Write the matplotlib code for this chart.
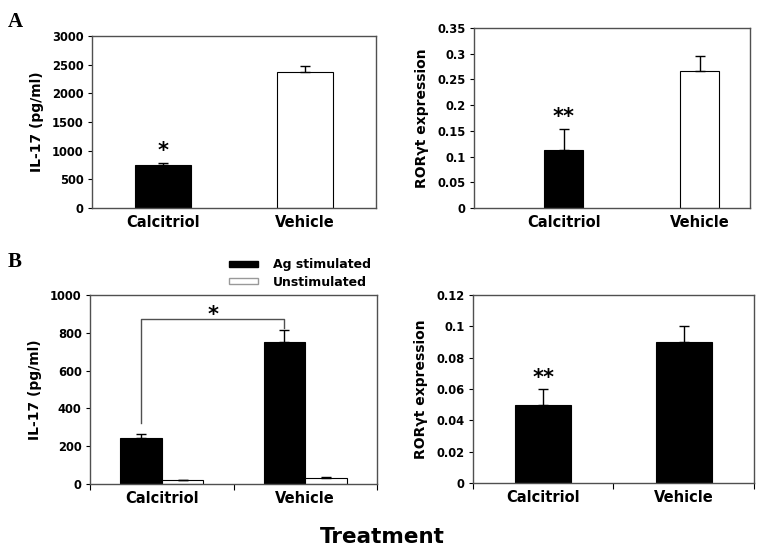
import matplotlib.pyplot as plt
import matplotlib.patches as mpatches

plt.rcParams["font.family"] = "DejaVu Sans"
plt.rcParams["font.weight"] = "bold"

# data
treatments = ["Calcitriol", "Vehicle"]

il17_a = [745, 2368]
il17_a_err = [38, 110]

ror_a = [0.113, 0.267]
ror_a_err = [0.040, 0.029]

il17_b_stim = [242, 750]
il17_b_stim_err = [21, 65]
il17_b_unstim = [20, 33]
il17_b_unstim_err = [3, 5]

ror_b = [0.050, 0.090]
ror_b_err = [0.010, 0.010]

SPINE = "#505050"


def style_axes(ax, ymax, yticks, ylabels, ylabel, group_ticks=False):
    for s in ax.spines.values():
        s.set_color(SPINE)
        s.set_linewidth(1.0)
    ax.set_ylim(0, ymax)
    ax.set_yticks(yticks)
    ax.set_yticklabels(ylabels, fontsize=8.3, fontweight="bold")
    ax.tick_params(axis="y", direction="out", length=3, width=0.8, pad=3, colors="black")
    ax.set_ylabel(ylabel, fontsize=10, fontweight="bold", labelpad=6)
    if group_ticks:
        ax.set_xticks([-0.5, 0.5, 1.5])
        ax.set_xticklabels(["", "", ""])
        ax.tick_params(axis="x", which="major", direction="out", length=4, width=0.8)
        ax.set_xticks([0, 1], minor=True)
        ax.set_xticklabels(treatments, minor=True, fontsize=10.5, fontweight="bold")
        ax.tick_params(axis="x", which="minor", length=0, pad=5)
    else:
        ax.set_xticks(range(len(treatments)))
        ax.set_xticklabels(treatments, fontsize=10.5, fontweight="bold")
        ax.tick_params(axis="x", length=0, pad=5)


def one_sided(err):
    return [[0] * len(err), err]


fig = plt.figure(figsize=(7.64, 5.56), dpi=100)

ebar = dict(ecolor="black", capsize=3.5, error_kw=dict(elinewidth=1, capthick=1))

# ---- A left
ax1 = fig.add_axes([0.1204, 0.6259, 0.3717, 0.3094])
x = range(len(treatments))
ax1.bar(x, il17_a, width=0.4, color=["black", "white"], edgecolor="black",
        linewidth=0.8, yerr=one_sided(il17_a_err), **ebar)
ax1.set_xlim(-0.5, 1.5)
style_axes(ax1, 3000, range(0, 3001, 500), [str(v) for v in range(0, 3001, 500)],
           "IL-17 (pg/ml)")
ax1.text(0, il17_a[0] + il17_a_err[0] + 40, "*", ha="center", va="bottom",
         fontsize=15, fontweight="bold")

# ---- A right
ax2 = fig.add_axes([0.6204, 0.6259, 0.3613, 0.3237])
ax2.bar(x, ror_a, width=0.29, color=["black", "white"], edgecolor="black",
        linewidth=0.8, yerr=one_sided(ror_a_err), **ebar)
ax2.set_xlim(-0.66, 1.37)
ticks_a = [0, 0.05, 0.1, 0.15, 0.2, 0.25, 0.3, 0.35]
style_axes(ax2, 0.35, ticks_a, ["0", "0.05", "0.1", "0.15", "0.2", "0.25", "0.3", "0.35"],
           "ROR\u03b3t expression")
ax2.text(0, ror_a[0] + ror_a_err[0] + 0.004, "**", ha="center", va="bottom",
         fontsize=15, fontweight="bold")

# ---- B left
ax3 = fig.add_axes([0.1178, 0.1295, 0.3757, 0.3399])
w = 0.29
xs = [i - w / 2 for i in x]
xu = [i + w / 2 for i in x]
ax3.bar(xs, il17_b_stim, width=w, color="black", edgecolor="black", linewidth=0.8,
        yerr=one_sided(il17_b_stim_err), label="Ag stimulated", **ebar)
ax3.bar(xu, il17_b_unstim, width=w, color="white", edgecolor="black", linewidth=0.8,
        yerr=one_sided(il17_b_unstim_err), label="Unstimulated", **ebar)
ax3.set_xlim(-0.5, 1.5)
style_axes(ax3, 1000, range(0, 1001, 200), [str(v) for v in range(0, 1001, 200)],
           "IL-17 (pg/ml)", group_ticks=True)
# significance bracket
ax3.plot([xs[0], xs[0], xs[1], xs[1]], [323, 873, 873, 825], color=SPINE, lw=1)
ax3.text((xs[0] + xs[1]) / 2, 840, "*", ha="center", va="bottom",
         fontsize=15, fontweight="bold")
handles = [mpatches.Patch(facecolor="black", edgecolor="black", label="Ag stimulated"),
           mpatches.Patch(facecolor="white", edgecolor="#999999", label="Unstimulated")]
ax3.legend(handles=handles, loc="lower right", bbox_to_anchor=(1.0, 1.0),
           frameon=False, handlelength=2.3, handleheight=0.4,
           handletextpad=1.2, labelspacing=0.35, borderpad=0, borderaxespad=0.5,
           prop=dict(weight="bold", size=9))

# ---- B right
ax4 = fig.add_axes([0.6191, 0.1313, 0.3678, 0.3381])
ax4.bar(x, ror_b, width=0.4, color="black", edgecolor="black", linewidth=0.8,
        yerr=one_sided(ror_b_err), **ebar)
ax4.set_xlim(-0.5, 1.5)
ticks_b = [0, 0.02, 0.04, 0.06, 0.08, 0.1, 0.12]
style_axes(ax4, 0.12, ticks_b, ["0", "0.02", "0.04", "0.06", "0.08", "0.1", "0.12"],
           "ROR\u03b3t expression", group_ticks=True)
ax4.text(0, ror_b[0] + ror_b_err[0] + 0.0005, "**", ha="center", va="bottom",
         fontsize=15, fontweight="bold")

# panel letters and shared x label
fig.text(0.010, 0.960, "A", family="Liberation Serif", fontsize=15, va="center")
fig.text(0.010, 0.528, "B", family="Liberation Serif", fontsize=15, va="center")
fig.text(0.5, 0.035, "Treatment", ha="center", va="center", fontsize=15.5,
         fontweight="bold")

fig.savefig("out.png", dpi=100)
